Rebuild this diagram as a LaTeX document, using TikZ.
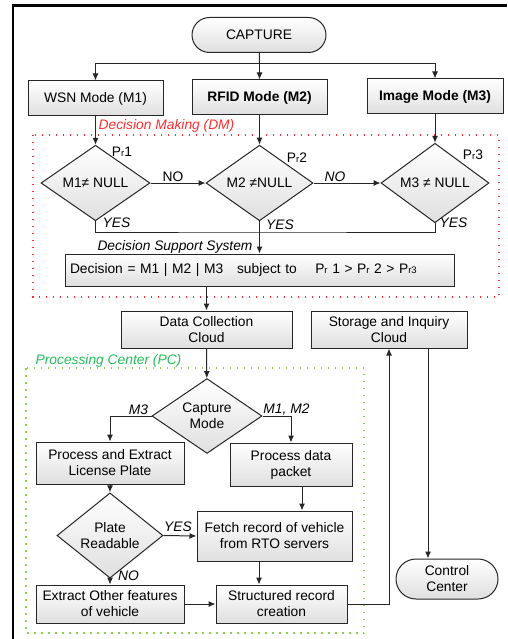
\documentclass[tikz,border=0pt]{standalone}
\usepackage{fontspec}
\setmainfont{Liberation Sans}
\usetikzlibrary{shapes.geometric,arrows.meta}
\definecolor{dmred}{RGB}{255,45,45}
\definecolor{pcgreen}{RGB}{35,190,90}
\definecolor{pcdots}{RGB}{135,212,70}
\newcommand{\probr}{P{\fontsize{9.5}{9.5}\selectfont r}}
\begin{document}
\begin{tikzpicture}[x=1pt,y=-1pt,
  every node/.style={font=\fontsize{13.8}{16}\selectfont},
  box/.style={draw=black!85,line width=1pt,top color=white,bottom color=gray!25,align=center,inner sep=1pt},
  term/.style={box,rounded corners=#1},
  test/.style={box,diamond,inner sep=0pt},
  link/.style={line width=1pt,draw=black!85},
  arr/.style={link,-{Latex[length=7pt,width=6pt]}},
  note/.style={font=\fontsize{13.8}{16}\selectfont\itshape,inner sep=0pt}]
\useasboundingbox (0,0) rectangle (507,639);
\draw[line width=2.5pt] (13,639) -- (13,5.5) -- (507,5.5);
\draw[dmred,line width=1.3pt,dash pattern=on 1.4pt off 5.6pt] (33,135) rectangle (499,297);
\draw[pcdots,line width=1.5pt,dash pattern=on 1.5pt off 5.5pt] (26,368) rectangle (364,633);
\draw (259,35) node[term=17.5pt,minimum width=134pt,minimum height=35pt] (capture) {CAPTURE};
\draw (95.5,98.5) node[box,minimum width=135pt,minimum height=35pt] (wsn) {WSN Mode (M1)};
\draw (259.5,97.5) node[box,minimum width=135pt,minimum height=35pt,font=\fontsize{13.8}{16}\selectfont\bfseries] (rfid) {RFID Mode (M2)};
\draw (435,96.5) node[box,minimum width=136pt,minimum height=35pt,font=\fontsize{13.8}{16}\selectfont\bfseries] (image) {Image Mode (M3)};
\draw (95.5,183) node[test,minimum width=109pt,minimum height=70pt] (d1) {M1≠ NULL};
\draw (259.5,183) node[test,minimum width=107pt,minimum height=64pt] (d2) {M2 ≠NULL};
\draw (435,183) node[test,minimum width=108pt,minimum height=64pt] (d3) {M3 ≠ NULL};
\draw (259.5,270) node[box,minimum width=389pt,minimum height=32pt,text width=379pt,align=left,inner sep=5pt] (decision) {Decision = M1 | M2 | M3\ \ \ subject to\ \ \ \ \probr\ 1 > \probr\ 2 > P{\fontsize{9.5}{9.5}\selectfont r3}};
\draw (206.5,329.5) node[box,minimum width=171pt,minimum height=37pt] (collect) {Data Collection\\Cloud};
\draw (389,329.5) node[box,minimum width=156pt,minimum height=37pt] (storage) {Storage and Inquiry\\Cloud};
\draw (207,416) node[test,minimum width=110pt,minimum height=65pt] (capmode) {Capture\\Mode};
\draw (110,463) node[box,minimum width=148pt,minimum height=42pt] (extract) {Process and Extract\\License Plate};
\draw (291,464.5) node[box,minimum width=122pt,minimum height=43pt] (packet) {Process data\\packet};
\draw (110,535.5) node[test,minimum width=106pt,minimum height=63pt] (plate) {Plate\\Readable};
\draw (274.5,536) node[box,minimum width=155pt,minimum height=50pt] (fetch) {Fetch record of vehicle\\from RTO servers};
\draw (110,604) node[box,minimum width=148pt,minimum height=38pt] (other) {Extract Other features\\of vehicle};
\draw (281.5,604) node[box,minimum width=131pt,minimum height=38pt] (record) {Structured record\\creation};
\draw (447,579) node[term=20pt,minimum width=102pt,minimum height=40pt] (control) {Control\\Center};
\coordinate (split) at (259.5,64);
\coordinate (yes) at (259.5,232);
\coordinate (px) at (302,0);
\coordinate (fx) at (259,0);
\coordinate (cx) at (428,0);
\draw[link] (capture) -- (split);
\draw[arr] (split) -| (wsn.north);
\draw[arr] (split) -- (rfid.north);
\draw[arr] (split) -| (image.north);
\draw[arr] (wsn) -- (d1);
\draw[arr] (rfid) -- (d2);
\draw[arr] (image) -- (d3);
\draw[arr] (d1.east) -- (d2.west);
\draw[arr] (d2.east) -- (d3.west);
\draw[link] (d1.south) |- (yes) -| (d3.south);
\draw[arr] (d2.south) -- (decision.north);
\draw[arr] (decision.south -| collect.north) -- (collect.north);
\draw[arr] (collect) -- (capmode);
\draw[arr] (capmode.west) -| (extract.north);
\draw[arr] (capmode.east) -| (packet.north);
\draw[arr] (extract) -- (plate);
\draw[arr] (plate.east) -- (fetch.west);
\draw[arr] (packet.south -| px) -- (fetch.north -| px);
\draw[arr] (plate) -- (other);
\draw[arr] (fetch.south -| fx) -- (record.north -| fx);
\draw[arr] (other) -- (record);
\draw[arr] (record.east) -| (storage.south);
\draw[arr] (storage.south -| cx) -- (control.north -| cx);
\draw (166.5,126) node[note,text=dmred] (dmlabel) {Decision Making (DM)};
\draw (175,247) node[note] (dsslabel) {Decision Support System};
\draw (108.5,361) node[note,text=pcgreen] (pclabel) {Processing Center (PC)};
\draw (122,152) node[inner sep=0pt] (pr1) {\probr1};
\draw (297,158) node[inner sep=0pt] (pr2) {\probr2};
\draw (473,155) node[inner sep=0pt] (pr3) {\probr3};
\draw (173,177) node[inner sep=0pt] (no1) {NO};
\draw (335,177) node[note] (no2) {NO};
\draw (116.5,223) node[note] (yes1) {YES};
\draw (280,225) node[note] (yes2) {YES};
\draw (453.5,223) node[note] (yes3) {YES};
\draw (138.5,410) node[note] (m3) {M3};
\draw (286.5,410) node[note] (m12) {M1, M2};
\draw (178,527) node[note] (yes4) {YES};
\draw (128.5,576) node[note] (no3) {NO};
\end{tikzpicture}
\end{document}
